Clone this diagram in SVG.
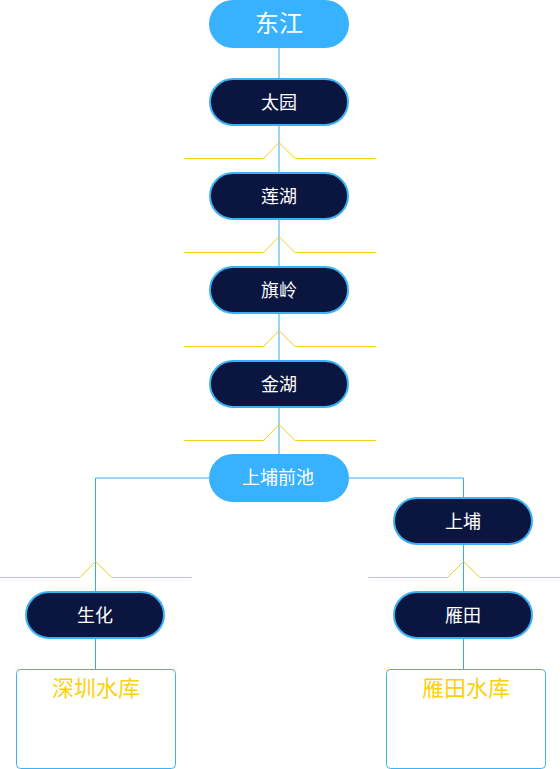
<svg xmlns="http://www.w3.org/2000/svg" width="560" height="769" viewBox="0 0 560 769">
<style>
.conn{fill:none;stroke:#3aa9ec;stroke-width:1}
.ylw{fill:none;stroke:#f6cb1c;stroke-width:1}
.light{fill:#38b1fe}
.dark{fill:#0b1640;stroke:#3cb2f6;stroke-width:2}
.res{fill:#ffffff;stroke:#3cb2f6;stroke-width:1}
text{font-family:"Noto Sans CJK SC","Noto Sans",sans-serif;text-anchor:middle;fill:#ffffff}
.t16{font-size:18px}
.t22{font-size:24px}
.ty{font-size:22px;fill:#fbd10f}
</style>
<rect width="560" height="769" fill="#ffffff"/>
<g id="connectors">
<path class="conn" d="M279 48V78M279 126V172M279 220V266M279 314V360M279 408V454"/>
<path class="conn" d="M209 478H95.5V592M95.5 638V669.5"/>
<path class="conn" d="M349 478H463.5V498M463.5 544V592M463.5 638V669.5"/>
<path class="ylw" d="M184 158.5H263.5L279 142.5L295 158.5H376"/>
<path class="ylw" d="M184 252.5H263.5L279 236.5L295 252.5H376"/>
<path class="ylw" d="M184 346.5H263.5L279 330.5L295 346.5H376"/>
<path class="ylw" d="M184 440.5H263.5L279 424.5L295 440.5H376"/>
<path class="ylw" d="M0 577.5H80L95.5 561.5L112 577.5H192"/>
<path class="ylw" d="M368 577.5H447.5L463.5 561.5L480 577.5H560"/>
</g>
<g id="n-dongjiang"><rect class="light" x="209" y="0" width="140" height="48" rx="24"/><text class="t22" x="279" y="32">东江</text></g>
<g id="n-taiyuan"><rect class="dark" x="210" y="79" width="138" height="46" rx="23"/><text class="t16" x="279" y="109">太园</text></g>
<g id="n-lianhu"><rect class="dark" x="210" y="173" width="138" height="46" rx="23"/><text class="t16" x="279" y="203">莲湖</text></g>
<g id="n-qiling"><rect class="dark" x="210" y="267" width="138" height="46" rx="23"/><text class="t16" x="279" y="297">旗岭</text></g>
<g id="n-jinhu"><rect class="dark" x="210" y="361" width="138" height="46" rx="23"/><text class="t16" x="279" y="391">金湖</text></g>
<g id="n-shangbuqianchi"><rect class="light" x="209" y="454" width="140" height="48" rx="24"/><text class="t16" x="278" y="484">上埔前池</text></g>
<g id="n-shenghua"><rect class="dark" x="26" y="592" width="138" height="46" rx="23"/><text class="t16" x="95" y="622">生化</text></g>
<g id="n-shangbu"><rect class="dark" x="394" y="498" width="138" height="46" rx="23"/><text class="t16" x="463" y="528">上埔</text></g>
<g id="n-yantian"><rect class="dark" x="394" y="592" width="138" height="46" rx="23"/><text class="t16" x="463" y="622">雁田</text></g>
<g id="n-shenzhen-res"><rect class="res" x="16.5" y="669.5" width="159" height="99" rx="4"/><text class="ty" x="96" y="696">深圳水库</text></g>
<g id="n-yantian-res"><rect class="res" x="386.5" y="669.5" width="159" height="99" rx="4"/><text class="ty" x="466" y="696">雁田水库</text></g>
</svg>
